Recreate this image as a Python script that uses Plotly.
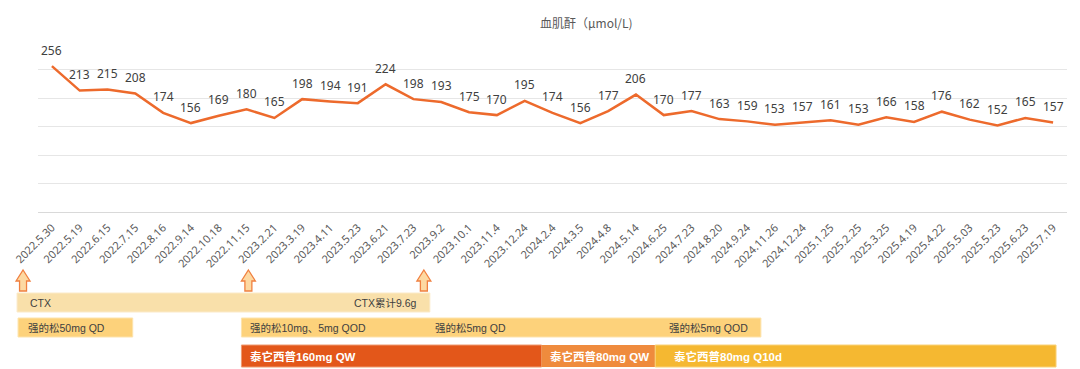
import plotly.graph_objects as go

# ---------------- data ----------------
dates = ["2022.5.30", "2022.5.19", "2022.6.15", "2022.7.15", "2022.8.16", "2022.9.14",
         "2022.10.18", "2022.11.15", "2023.2.21", "2023.3.19", "2023.4.11", "2023.5.23",
         "2023.6.21", "2023.7.23", "2023.9.2", "2023.10.1", "2023.11.4", "2023.12.24",
         "2024.2.4", "2024.3.5", "2024.4.8", "2024.5.14", "2024.6.25", "2024.7.23",
         "2024.8.20", "2024.9.24", "2024.11.26", "2024.12.24", "2025.1.25", "2025.2.25",
         "2025.3.25", "2025.4.19", "2025.4.22", "2025.5.03", "2025.5.23", "2025.6.23",
         "2025.7.19"]
creatinine = [256, 213, 215, 208, 174, 156, 169, 180, 165, 198, 194, 191, 224, 198, 193,
              175, 170, 195, 174, 156, 177, 206, 170, 177, 163, 159, 153, 157, 161, 153,
              166, 158, 176, 162, 152, 165, 157]
title_text = "血肌酐（μmol/L)"

# treatment timeline labels
ctx_labels = ["CTX", "CTX累计9.6g"]
pred_labels = ["强的松50mg QD", "强的松10mg、5mg QOD", "强的松5mg QD", "强的松5mg QOD"]
tai_labels = ["泰它西普160mg QW", "泰它西普80mg QW", "泰它西普80mg Q10d"]

# ---------------- layout geometry ----------------
W_FIG, H_FIG = 1080, 369
L, R, T, B = 35, 13, 41, 157
PW = W_FIG - L - R
PH = H_FIG - T - B


def X(px):
    return (px - L) / PW


def Y(py):
    return (H_FIG - B - py) / PH


LINE_COLOR = "#ED6A2C"
TXT = "#404040"
CJK = "Noto Sans CJK SC"
MIX = "Liberation Sans, Arial, Noto Sans CJK SC"

fig = go.Figure()
fig.add_trace(go.Scatter(
    x=dates, y=creatinine, mode="lines",
    line=dict(color=LINE_COLOR, width=2.5),
    hoverinfo="x+y", showlegend=False,
))

annotations = []
for d, v in zip(dates, creatinine):
    annotations.append(dict(x=d, y=v, xref="x", yref="y", text=str(v), showarrow=False,
                            yshift=16, font=dict(size=12, color=TXT, family="Noto Sans")))

annotations.append(dict(x=X(585), y=Y(23), xref="paper", yref="paper", text=title_text,
                        showarrow=False, xanchor="center", yanchor="middle",
                        font=dict(size=12, color="#595959", family=CJK)))

shapes = []


def rect(x0, x1, y0, y1, color, line=None):
    shapes.append(dict(type="rect", xref="paper", yref="paper",
                       x0=X(x0), x1=X(x1), y0=Y(y1), y1=Y(y0),
                       fillcolor=color, layer="above",
                       line=dict(width=1 if line else 0, color=line or color)))


def label(px, py, text, anchor="left", color=TXT, bold=False, size=10.5):
    annotations.append(dict(x=X(px), y=Y(py), xref="paper", yref="paper",
                            text=f"<b>{text}</b>" if bold else text, showarrow=False,
                            xanchor=anchor, yanchor="middle",
                            font=dict(size=size, color=color, family=MIX)))


def arrow(cx, top=270, bottom=291):
    hw, sw, neck = 7, 3.5, 281
    pts = [(cx, top), (cx + hw, neck), (cx + sw, neck), (cx + sw, bottom),
           (cx - sw, bottom), (cx - sw, neck), (cx - hw, neck)]
    path = "M " + " L ".join(f"{X(a):.5f},{Y(b):.5f}" for a, b in pts) + " Z"
    shapes.append(dict(type="path", xref="paper", yref="paper", path=path,
                       fillcolor="#FDD9A2", line=dict(color="#F08040", width=1.3),
                       layer="above"))


# arrows
for cx in (20, 246, 422):
    arrow(cx)

# CTX bar
rect(14, 428, 293, 312, "#F9E0AA", "#FBEAC8")
label(25, 303, ctx_labels[0])
label(417, 303, ctx_labels[1], anchor="right")

# prednisone bars
rect(15, 130, 318, 337, "#FDD27B", "#FDE3AC")
label(23, 328, pred_labels[0])
rect(239, 760, 318, 337, "#FDD27B", "#FDE3AC")
label(246, 328, pred_labels[1])
label(431, 328, pred_labels[2])
label(749, 328, pred_labels[3], anchor="right")

# telitacicept bars
rect(239, 540, 345, 367, "#E3571A", "#EE9A70")
rect(540, 654, 345, 367, "#EF8B3D")
rect(654, 1056, 345, 367, "#F5B831", "#F9D27A")
label(246, 356, tai_labels[0], color="white", bold=True, size=11.5)
label(546, 356, tai_labels[1], color="white", bold=True, size=11.5)
label(671, 356, tai_labels[2], color="white", bold=True, size=11.5)

fig.update_layout(
    width=W_FIG, height=H_FIG, autosize=False,
    margin=dict(l=L, r=R, t=T, b=B),
    paper_bgcolor="white", plot_bgcolor="white",
    showlegend=False,
    annotations=annotations, shapes=shapes,
    xaxis=dict(type="category", tickangle=-45, showgrid=False,
               showline=True, linecolor="#D9D9D9", linewidth=1,
               ticks="outside", ticklen=4, tickcolor="rgba(0,0,0,0)",
               tickfont=dict(size=11, color="#595959", family="Noto Sans"),
               range=[-0.5, len(dates) - 0.5], fixedrange=True),
    yaxis=dict(range=[0, 300], dtick=50, showticklabels=False, showgrid=True,
               gridcolor="#E6E6E6", gridwidth=1, zeroline=False, showline=False,
               ticks="", fixedrange=True),
)

fig.write_html("out.html")
